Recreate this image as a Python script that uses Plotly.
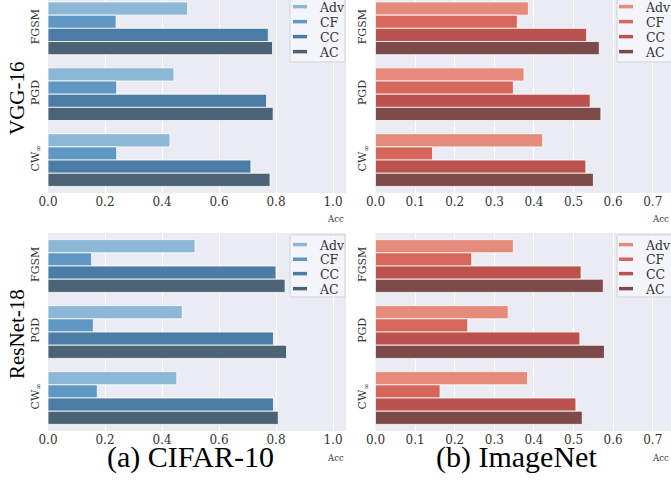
import plotly.graph_objects as go

W, H = 671, 483

# ---------------- data ----------------
categories = ["FGSM", "PGD", "CW<sub>∞</sub>"]
series_names = ["Adv", "CF", "CC", "AC"]

cifar_vgg_adv = [0.490, 0.442, 0.428]
cifar_vgg_cf = [0.239, 0.241, 0.241]
cifar_vgg_cc = [0.773, 0.767, 0.712]
cifar_vgg_ac = [0.788, 0.790, 0.779]

cifar_res_adv = [0.516, 0.471, 0.452]
cifar_res_cf = [0.153, 0.159, 0.173]
cifar_res_cc = [0.800, 0.791, 0.791]
cifar_res_ac = [0.832, 0.837, 0.808]

imnet_vgg_adv = [0.386, 0.375, 0.422]
imnet_vgg_cf = [0.358, 0.348, 0.144]
imnet_vgg_cc = [0.533, 0.542, 0.531]
imnet_vgg_ac = [0.565, 0.569, 0.550]

imnet_res_adv = [0.348, 0.335, 0.384]
imnet_res_cf = [0.243, 0.233, 0.163]
imnet_res_cc = [0.519, 0.516, 0.506]
imnet_res_ac = [0.575, 0.578, 0.522]

cifar_ticks = [0.0, 0.2, 0.4, 0.6, 0.8, 1.0]
imnet_ticks = [0.0, 0.1, 0.2, 0.3, 0.4, 0.5, 0.6, 0.7]

blues = ["#8cb8d6", "#6098c4", "#4b7ca6", "#4c6275"]
reds = ["#e58b7c", "#d7675d", "#bb524d", "#7d4a4a"]

# ---------------- helpers ----------------
def px_x(p):
    return p / W

def px_y(p):
    return 1 - p / H

tick_font = dict(family="DejaVu Serif", size=12, color="#333333")
ytick_font = dict(family="DejaVu Serif", size=11, color="#333333")
legend_font = dict(family="DejaVu Serif", size=12.5, color="#333333")
cap_font = dict(family="Liberation Serif", size=30, color="black")
model_font = dict(family="Liberation Serif", size=21, color="black")

panels = [
    # (suffix, series, colors, legend glyph x center, legend item y centres)
    ("", [cifar_vgg_adv, cifar_vgg_cf, cifar_vgg_cc, cifar_vgg_ac], blues, 300, [7, 22, 37, 52]),
    ("2", [imnet_vgg_adv, imnet_vgg_cf, imnet_vgg_cc, imnet_vgg_ac], reds, 626, [7, 22, 37, 52]),
    ("3", [cifar_res_adv, cifar_res_cf, cifar_res_cc, cifar_res_ac], blues, 300, [245, 259.5, 274, 289]),
    ("4", [imnet_res_adv, imnet_res_cf, imnet_res_cc, imnet_res_ac], reds, 626, [245, 259.5, 274, 289]),
]

fig = go.Figure()
legends = {}
leg_idx = 0
for suffix, series, colors, gx, gys in panels:
    xa = "x" + suffix
    ya = "y" + suffix
    for name, vals, col in zip(series_names, series, colors):
        fig.add_trace(go.Bar(
            y=categories, x=vals, orientation="h", name=name,
            marker=dict(color=col, line=dict(color="white", width=0.8)),
            xaxis=xa, yaxis=ya, showlegend=False, hoverinfo="x+name",
        ))
    for name, col, gy in zip(series_names, colors, gys):
        leg_idx += 1
        lname = "legend" if leg_idx == 1 else f"legend{leg_idx}"
        fig.add_trace(go.Scatter(
            x=[None], y=[None], mode="markers", name=name,
            marker=dict(symbol="line-ew", size=10, color=col,
                        line=dict(color=col, width=3.5)),
            xaxis=xa, yaxis=ya, showlegend=True, legend=lname,
        ))
        legends[lname] = dict(
            x=px_x(gx - 20), xanchor="left", y=px_y(gy), yanchor="middle",
            bgcolor="rgba(0,0,0,0)", borderwidth=0, font=legend_font,
            itemwidth=30, tracegroupgap=0,
        )

def xaxis(domain, rng, ticks, anchor):
    return dict(domain=domain, range=rng, tickvals=ticks,
                ticktext=[f"{t:.1f}" for t in ticks],
                showgrid=True, gridcolor="white", gridwidth=1,
                zeroline=False, showline=False, ticks="",
                tickfont=tick_font, anchor=anchor, fixedrange=True,
                automargin=False)

def yaxis(domain, rng, anchor):
    return dict(domain=domain, range=rng, type="category",
                categoryorder="array", categoryarray=categories,
                showgrid=False, zeroline=False, showline=False, ticks="",
                tickangle=-90, tickfont=ytick_font, anchor=anchor,
                ticklabelstandoff=6, fixedrange=True, automargin=False)

left_dom = [px_x(48), px_x(346)]
right_dom = [px_x(375.5), 1.0]
top_dom = [px_y(193), 1.0]
bot_dom = [px_y(431), px_y(233)]

layout = dict(
    width=W, height=H, autosize=False,
    margin=dict(l=0, r=0, t=0, b=0, pad=0, autoexpand=False),
    paper_bgcolor="white", plot_bgcolor="#EBECF3",
    barmode="group", bargap=0.2, bargroupgap=0.0,
    xaxis=xaxis(left_dom, [0, 1.0456], cifar_ticks, "y"),
    yaxis=yaxis(top_dom, [2.5, -0.43], "x"),
    xaxis2=xaxis(right_dom, [0, 0.746], imnet_ticks, "y2"),
    yaxis2=yaxis(top_dom, [2.5, -0.43], "x2"),
    xaxis3=xaxis(left_dom, [0, 1.0456], cifar_ticks, "y3"),
    yaxis3=yaxis(bot_dom, [2.5, -0.5], "x3"),
    xaxis4=xaxis(right_dom, [0, 0.746], imnet_ticks, "y4"),
    yaxis4=yaxis(bot_dom, [2.5, -0.5], "x4"),
    showlegend=True,
)
layout.update(legends)
fig.update_layout(**layout)

# legend frames
box_style = dict(type="rect", xref="paper", yref="paper", layer="above",
                 fillcolor="rgba(246,247,251,0.85)",
                 line=dict(color="#d2d3da", width=1))
for (x0, x1, y0, y1) in [(290, 345, -4, 62), (617, 675, -4, 62),
                         (290, 345, 235, 297), (617, 675, 235, 297)]:
    fig.add_shape(x0=px_x(x0), x1=px_x(x1), y0=px_y(y1), y1=px_y(y0), **box_style)

ann = []
acc_font = dict(family="DejaVu Serif", size=8.5, color="#333333")
for xr, yc in [(346, 219), (671, 219), (346, 458), (671, 458)]:
    ann.append(dict(text="Acc", x=px_x(xr), y=px_y(yc), xref="paper", yref="paper",
                    xanchor="right", yanchor="middle", showarrow=False, font=acc_font))
ann.append(dict(text="VGG-16", x=px_x(17), y=px_y(98), xref="paper", yref="paper",
                textangle=-90, xanchor="center", yanchor="middle", showarrow=False,
                font=model_font))
ann.append(dict(text="ResNet-18", x=px_x(17), y=px_y(334), xref="paper", yref="paper",
                textangle=-90, xanchor="center", yanchor="middle", showarrow=False,
                font=model_font))
ann.append(dict(text="(a) CIFAR-10", x=px_x(190), y=px_y(457), xref="paper", yref="paper",
                xanchor="center", yanchor="middle", showarrow=False, font=cap_font))
ann.append(dict(text="(b) ImageNet", x=px_x(516), y=px_y(457), xref="paper", yref="paper",
                xanchor="center", yanchor="middle", showarrow=False, font=cap_font))
fig.update_layout(annotations=ann)

fig.write_html(
    "out.html",
    config={"displayModeBar": False},
    post_script="document.body.style.margin='0';document.body.style.overflow='hidden';",
)
